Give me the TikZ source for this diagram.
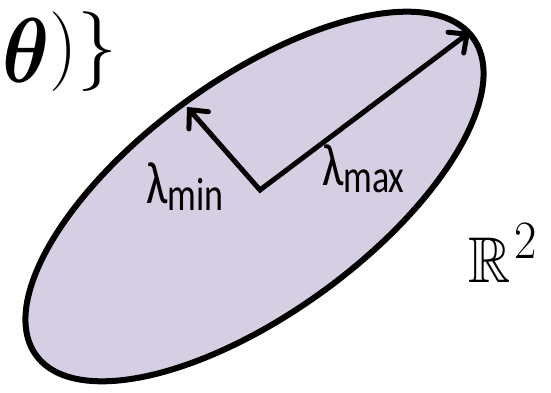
\documentclass[tikz,border=0pt]{standalone}
\usepackage{amsmath,amssymb,bm}
\usepackage{fontspec}
\newfontfamily\calib{Carlito}
\usetikzlibrary{arrows.meta,shadows}
\definecolor{lav}{RGB}{214,206,226}
\begin{document}
\begin{tikzpicture}[x=1pt,y=1pt,
  region/.style={draw=black,line width=6pt,fill=lav,
    drop shadow={shadow xshift=1.5pt,shadow yshift=-1.5pt,opacity=0.3,fill=black}},
  axisarrow/.style={line width=5pt,line join=miter,
    {Straight Barb[length=14pt,width=26pt,line cap=round]}-{Straight Barb[length=14pt,width=26pt,line cap=round]}},
  lab/.style={inner sep=0pt,outer sep=0pt}]
\useasboundingbox (0,0) rectangle (551,392);
\coordinate (ctr) at (254.5,195.5);
\draw[region, rotate around={36:(ctr)}] (ctr) ellipse [x radius=270, y radius=117];
\coordinate (c) at (260,202);
\coordinate (tmax) at (470,360);
\coordinate (tmin) at (187,285);
\draw[axisarrow] (tmin) -- (c) -- (tmax);
\node[lab, anchor=base west] (lmin) at (146,189)
  {\scalebox{1}[1.3]{\calib\fontsize{46}{46}\selectfont λ\fontsize{36}{36}\selectfont\raisebox{-6pt}{min}}};
\node[lab, anchor=base west] (lmax) at (322,207)
  {\scalebox{1}[1.3]{\calib\fontsize{46}{46}\selectfont λ\fontsize{36}{36}\selectfont\raisebox{-6pt}{max}}};
\node[lab, anchor=base west] (r2) at (468,110)
  {\scalebox{2.35}[2.6]{\Huge$\mathbb{R}^{\kern2pt2}$}};
\node[lab, anchor=base west] (th) at (2,320)
  {\raisebox{-10pt}{\scalebox{3.2}[3.7]{\Huge$\bm{\theta}$}}\scalebox{3.2}[3.2]{\Huge$)\}$}};
\end{tikzpicture}
\end{document}
